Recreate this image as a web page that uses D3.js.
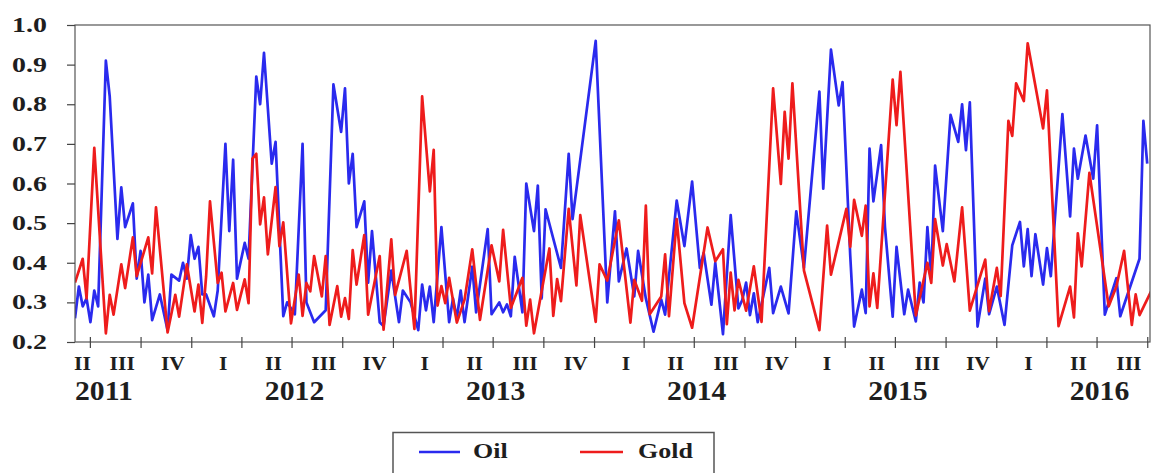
<!DOCTYPE html>
<html>
<head>
<meta charset="utf-8">
<script src="https://cdn.jsdelivr.net/npm/d3@7"></script>
<style>
  body { margin: 0; background: #fff; }
  svg { display: block; }
  text { font-family: "Liberation Serif", "Times New Roman", serif; font-weight: bold; fill: #1e1e1e; }
</style>
</head>
<body>
<svg id="chart" width="1151" height="473"></svg>
<script>
// ---------------- data ----------------
const startDate = "2011-06-04";   // first weekly observation (week 0)
const endDate = "2016-10-06";
const yTickValues = [0.2, 0.3, 0.4, 0.5, 0.6, 0.7, 0.8, 0.9, 1.0];
const quarterNames = ["I", "II", "III", "IV"];
const seriesNames = ["Oil", "Gold"];

// week number since startDate, and value
const oilWeek = [0,1,2,3,4,5,6,8,9,11,12,13,15,16,17,18,19,20,22,24,25,27,28,29,30,31,32,33,34,36,37,39,40,41,42,44,45,47,48,49,51,52,54,55,57,59,60,62,65,67,69,70,71,72,73,75,76,77,79,80,82,84,85,87,89,90,91,92,93,95,97,98,99,100,101,103,104,107,108,110,111,112,113,114,116,117,119,120,121,122,126,128,129,135,138,140,141,143,145,146,148,150,152,153,156,158,160,162,163,165,166,168,170,172,173,174,175,176,177,180,181,183,185,187,189,193,194,196,198,199,201,202,204,205,206,207,209,210,212,213,215,216,218,219,220,221,222,223,225,227,229,230,231,232,234,236,237,239,241,243,245,246,247,248,249,251,252,253,256,258,259,260,262,264,265,267,270,271,276,277,278];
const oilValue = [0.26,0.34,0.29,0.31,0.25,0.33,0.29,0.91,0.82,0.46,0.59,0.49,0.55,0.36,0.43,0.30,0.37,0.255,0.32,0.23,0.37,0.355,0.40,0.36,0.47,0.41,0.44,0.32,0.32,0.265,0.33,0.70,0.48,0.66,0.36,0.45,0.41,0.87,0.80,0.93,0.65,0.705,0.265,0.30,0.27,0.70,0.30,0.25,0.28,0.85,0.73,0.84,0.60,0.675,0.49,0.555,0.35,0.48,0.25,0.24,0.38,0.25,0.33,0.30,0.23,0.345,0.28,0.34,0.25,0.49,0.25,0.31,0.26,0.33,0.25,0.39,0.275,0.485,0.27,0.30,0.275,0.295,0.265,0.415,0.275,0.60,0.48,0.595,0.31,0.535,0.387,0.675,0.51,0.96,0.30,0.53,0.353,0.436,0.315,0.43,0.31,0.226,0.307,0.269,0.557,0.442,0.605,0.387,0.425,0.294,0.40,0.22,0.52,0.285,0.306,0.35,0.268,0.323,0.25,0.387,0.273,0.34,0.272,0.53,0.387,0.832,0.587,0.938,0.797,0.856,0.417,0.239,0.332,0.273,0.688,0.555,0.697,0.49,0.264,0.44,0.27,0.332,0.252,0.35,0.30,0.49,0.365,0.645,0.48,0.773,0.705,0.80,0.684,0.805,0.239,0.36,0.27,0.34,0.243,0.444,0.503,0.391,0.485,0.366,0.472,0.345,0.437,0.366,0.775,0.517,0.688,0.612,0.721,0.612,0.747,0.269,0.361,0.265,0.41,0.758,0.65];

const goldWeek = [0,2,3,5,8,9,10,12,13,15,16,19,20,21,24,26,27,29,31,32,33,34,35,37,38,39,41,42,44,45,46,47,48,49,50,52,53,54,56,58,59,60,61,62,64,65,66,68,69,70,71,72,73,75,76,79,80,82,83,86,88,90,92,93,94,95,96,97,99,101,103,105,108,110,111,113,116,117,118,119,123,124,125,126,128,130,131,135,136,138,141,144,145,147,148,149,152,153,154,156,158,160,164,166,168,169,170,171,172,174,176,178,181,183,184,185,186,189,193,195,196,200,201,202,204,205,206,207,208,212,213,214,218,221,222,223,225,226,228,230,232,236,237,239,240,242,243,244,246,247,251,252,255,258,259,260,261,263,268,270,272,274,275,276,279];
const goldValue = [0.35,0.41,0.31,0.69,0.222,0.319,0.269,0.396,0.336,0.464,0.366,0.464,0.373,0.54,0.224,0.319,0.264,0.396,0.277,0.345,0.248,0.366,0.555,0.349,0.375,0.277,0.349,0.281,0.358,0.298,0.663,0.675,0.497,0.565,0.421,0.591,0.442,0.502,0.247,0.37,0.266,0.349,0.328,0.417,0.315,0.417,0.243,0.341,0.264,0.311,0.258,0.432,0.345,0.47,0.269,0.417,0.231,0.459,0.319,0.43,0.233,0.82,0.58,0.685,0.292,0.341,0.298,0.362,0.249,0.307,0.434,0.256,0.444,0.353,0.483,0.286,0.362,0.241,0.307,0.222,0.436,0.266,0.359,0.303,0.536,0.343,0.52,0.251,0.396,0.355,0.507,0.249,0.357,0.304,0.544,0.27,0.315,0.421,0.265,0.51,0.298,0.236,0.489,0.404,0.434,0.245,0.375,0.28,0.357,0.279,0.391,0.251,0.84,0.599,0.781,0.663,0.853,0.38,0.23,0.494,0.37,0.536,0.44,0.559,0.468,0.544,0.29,0.373,0.286,0.862,0.747,0.882,0.267,0.40,0.349,0.51,0.393,0.447,0.353,0.54,0.279,0.408,0.278,0.387,0.316,0.758,0.72,0.853,0.808,0.954,0.739,0.835,0.24,0.34,0.262,0.474,0.391,0.627,0.29,0.34,0.43,0.243,0.32,0.268,0.328];

// ---------------- layout ----------------
const plot = { left: 75, right: 1150, top: 25, bottom: 342 };
const colors = { Oil: "#2a2aee", Gold: "#ee1c1c" };

const svg = d3.select("#chart");
const parse = d3.utcParse("%Y-%m-%d");
const t0 = parse(startDate), t1 = parse(endDate);

const x = d3.scaleUtc().domain([t0, t1]).range([plot.left, plot.right]);
const y = d3.scaleLinear().domain([0.2, 1.0]).range([plot.bottom, plot.top]);

const weekDate = w => d3.utcDay.offset(t0, w * 7);
const oilData = oilWeek.map((w, i) => ({ d: weekDate(w), v: oilValue[i] }));
const goldData = goldWeek.map((w, i) => ({ d: weekDate(w), v: goldValue[i] }));

function addText(g, tx, ty, str, size, sx, anchor) {
  return g.append("text")
    .attr("transform", `translate(${tx},${ty}) scale(${sx},1)`)
    .attr("text-anchor", anchor)
    .style("font-size", size + "px")
    .text(str);
}

// clip
svg.append("defs").append("clipPath").attr("id", "clip")
  .append("rect").attr("x", plot.left).attr("y", plot.top)
  .attr("width", plot.right - plot.left).attr("height", plot.bottom - plot.top);

// lines
const line = d3.line().x(d => x(d.d)).y(d => y(d.v));
const lines = svg.append("g").attr("clip-path", "url(#clip)");
lines.append("path").datum(oilData).attr("d", line)
  .attr("fill", "none").attr("stroke", colors.Oil).attr("stroke-width", 2.7)
  .attr("stroke-linejoin", "round");
lines.append("path").datum(goldData).attr("d", line)
  .attr("fill", "none").attr("stroke", colors.Gold).attr("stroke-width", 2.7)
  .attr("stroke-linejoin", "round");

// frame
svg.append("rect").attr("x", plot.left).attr("y", plot.top)
  .attr("width", plot.right - plot.left).attr("height", plot.bottom - plot.top)
  .attr("fill", "none").attr("stroke", "#555").attr("stroke-width", 1.2);

// y axis
const yAxis = svg.append("g").attr("transform", `translate(${plot.left},0)`)
  .call(d3.axisLeft(y).tickValues(yTickValues).tickSize(8).tickFormat(""));
yAxis.select(".domain").remove();
yAxis.selectAll("line").attr("stroke", "#444").attr("stroke-width", 1.2);
const yLab = svg.append("g");
yTickValues.forEach(v => {
  addText(yLab, 47, y(v) + 7, d3.format(".1f")(v), 21, 1.33, "end");
});

// x axis: quarter boundary ticks
const qTicks = d3.utcMonth.every(3).range(t0, t1);
const xAxis = svg.append("g").attr("transform", `translate(0,${plot.bottom})`)
  .call(d3.axisBottom(x).tickValues(qTicks).tickSizeInner(6).tickSizeOuter(0).tickFormat(""));
xAxis.select(".domain").remove();
xAxis.selectAll("line").attr("stroke", "#444").attr("stroke-width", 1.2).attr("y1", -5);

// quarter labels (only quarters with a visible span wide enough to hold a label)
const qStarts = d3.utcMonth.every(3).range(d3.utcMonth.every(3).floor(t0), t1);
const xLab = svg.append("g");
qStarts.forEach(qs => {
  const qe = d3.utcMonth.offset(qs, 3);
  const a = qs < t0 ? t0 : qs;
  const b = qe > t1 ? t1 : qe;
  if (x(b) - x(a) < 10) return;
  const partial = qs < t0;
  const cx = (x(a) + x(b)) / 2 + (partial ? 0 : 7);
  addText(xLab, cx, 370, quarterNames[Math.floor(qs.getUTCMonth() / 3)], 18, 1.2, "middle");
});

// year labels
const years = d3.range(t0.getUTCFullYear(), t1.getUTCFullYear() + 1);
years.forEach(yr => {
  const mid = x(Date.UTC(yr, 6, 1)) + 3;
  const tEl = addText(xLab, 0, 0, String(yr), 27, 1.1, "middle");
  const half = tEl.node().getComputedTextLength() * 1.1 / 2;
  const cx = Math.max(mid, plot.left + half);
  tEl.attr("transform", `translate(${cx},400) scale(1.1,1)`);
});

// legend
const leg = svg.append("g");
leg.append("rect").attr("x", 393).attr("y", 432.5).attr("width", 321).attr("height", 70)
  .attr("fill", "none").attr("stroke", "#555").attr("stroke-width", 1.5);
const legItems = [
  { name: seriesNames[0], x1: 419, x2: 460, tx: 473 },
  { name: seriesNames[1], x1: 580, x2: 623, tx: 638 }
];
legItems.forEach(it => {
  leg.append("line").attr("x1", it.x1).attr("x2", it.x2).attr("y1", 452).attr("y2", 452)
    .attr("stroke", colors[it.name]).attr("stroke-width", 2.6);
  addText(leg, it.tx, 457.5, it.name, 20, 1.3, "start");
});
</script>
</body>
</html>
